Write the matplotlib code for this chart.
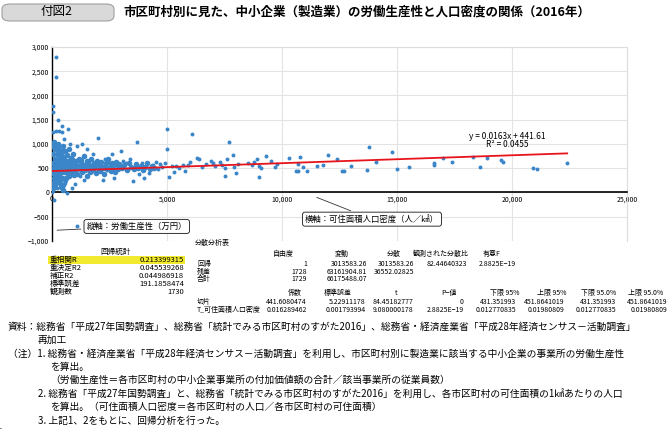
import matplotlib
matplotlib.use("Agg")
import matplotlib.pyplot as plt
from matplotlib.patches import FancyBboxPatch, Rectangle
from matplotlib.lines import Line2D

plt.rcParams['font.family'] = 'Noto Sans CJK JP'

# sparse points
sparse_x = [22400,21100,20900,19600,19500,18900,18600,18300,17400,17000,16600,16600,15500,15000,14800,13800,14100,13700,13000,12700,12600,12400,12000,11800,11500,11100,10900,10800,10700,10600,10700,10300,9800,9700,9500,9300,9100,9000,9000,8800,8900,8700,8500,8100,8000,7900,7850,7700,7600,7500,7500,7400,7300,7100,7000,6900,6700,6500,6400,6300,6100,6000,5900,5800,5700,5500,5400,5300,5200,5100,5000,5000,4900,4800,4700,4600,4500,4400,4300,4200,4100,4000,3900,3800,3700,3600,3500,3400,3300,3200,3100,3000,2900,2800,2700,2600,2500,2400,2300,2200,2100,2000,1900,1800,1700,1600,1500,1400,1300,1200,1100,1000,950,900,850,800,700,650,600,550,500,450,420,400,350,300,260,200,180,170,160,100,80,50,30,30,1100,20]
sparse_y = [610,490,495,630,660,710,530,740,630,720,560,600,530,490,840,930,620,470,550,450,445,700,770,560,550,450,520,730,440,450,590,720,580,530,650,750,500,320,550,620,700,570,600,580,400,530,780,1050,700,500,340,560,620,540,600,650,580,520,690,710,1210,620,560,450,560,500,550,420,540,310,1310,900,600,520,580,480,620,560,520,400,550,290,600,380,1050,530,230,700,480,600,650,850,520,560,300,800,600,470,700,250,500,1130,620,800,420,600,900,250,1000,350,950,180,560,700,90,1000,1300,-20,850,200,1100,1250,1370,300,950,1260,1500,100,1260,2800,2380,900,-150,1650,1780,1250,-700,0]

# dense cloud points
dense_x = [10,20,30,40,50,60,70,90,110,130,150,170,190,210,230,250,270,290,310,330,350,370,390,410,430,450,470,490,
           520,540,560,580,600,620,640,660,680,700,720,740,760,780,800,820,840,860,880,900,920,940,960,980,
           1020,1060,1100,1140,1180,1220,1260,1300,1340,1380,1420,1460,1500,1540,1580,1620,1660,1700,1740,1780,1820,1860,1900,1940,1980,
           2050,2100,2150,2200,2250,2300,2350,2400,2450,2500,2550,2600,2650,2700,2750,2800,2850,2900,2950,
           3050,3150,3250,3350,3450,3550,3650,3750,3850,3950,4050,4150,4250,4350,4450,
           60,120,180,240,300,360,420,480,100,200,300,400,500,80,160,240,320,400,480,140,280,420,560,700,840,
           250,500,750,1000,1250,1500,350,650,950,1250,1600,1800,2000,2200]
dense_y = [50,200,400,600,800,950,300,500,700,150,900,350,600,450,800,250,1000,550,700,400,200,850,600,500,750,300,650,950,
           420,700,550,850,300,600,480,780,400,650,520,900,350,600,450,720,560,380,650,500,800,420,600,520,
           450,650,380,550,700,480,600,420,520,750,460,580,350,640,500,560,420,700,520,460,600,540,400,650,500,
           560,450,620,500,380,540,600,480,700,520,440,600,500,560,420,620,480,580,520,
           500,560,460,600,520,480,580,500,540,460,520,600,480,540,500,
           100,250,350,500,650,750,850,150,1050,950,880,780,680,580,420,320,220,120,60,500,400,300,250,350,450,
           480,520,560,400,520,560,620,440,360,660,480,540,600,520]

slope, intercept = 0.0163, 441.61
x_ticks = [0,5000,10000,15000,20000,25000]
y_ticks = [-1000,-500,0,500,1000,1500,2000,2500,3000]

W, H = 668, 429
fig = plt.figure(figsize=(W/100, H/100), dpi=100)

def px(x, y):
    return x / W, 1 - y / H

def T(x, y, s, **kw):
    kw.setdefault('fontsize', 6)
    kw.setdefault('va', 'center')
    fig.text(x / W, 1 - y / H, s, **kw)

# header
fig.patches.append(FancyBboxPatch(px(2, 21), 112/W, 17/H, boxstyle="round,pad=0,rounding_size=0.012",
                                  transform=fig.transFigure, fc='#d9d9d9', ec='#a0a0a0', lw=0.8))
T(57, 12, "付図2", fontsize=9, ha='center')
T(123, 12, "市区町村別に見た、中小企業（製造業）の労働生産性と人口密度の関係（2016年）", fontsize=9, ha='left', weight='bold')

# axes
l, b = px(52, 241)
r, t = px(627, 47)
ax = fig.add_axes([l, b, r - l, t - b])
ax.set_xlim(0, 25000)
ax.set_ylim(-1000, 3000)
ax.scatter(dense_x, dense_y, s=16, color='#3a86c8', lw=0, zorder=3)
ax.scatter(sparse_x, sparse_y, s=8, color='#3a86c8', lw=0, zorder=3)
xs = [0, 22400]
ax.plot(xs, [slope*v + intercept for v in xs], color='#e8141c', lw=1.3, zorder=4)
ax.set_xticks(x_ticks)
ax.set_xticklabels([f"{v:,}" for v in x_ticks])
ax.set_yticks(y_ticks)
ylabels = ax.set_yticklabels(["−1,000" if v == -1000 else ("−500" if v == -500 else f"{v:,}") for v in y_ticks])
for lab, v in zip(ylabels, y_ticks):
    if v < 0:
        lab.set_color('#e8141c')
ax.tick_params(length=0, pad=2, labelsize=5)
ax.grid(True, color='#e3e3e3', lw=0.8)
ax.set_axisbelow(True)
for s in ['top', 'right']:
    ax.spines[s].set_color('#dddddd')
ax.spines['left'].set_position(('data', 0))
ax.spines['bottom'].set_position(('data', 0))
ax.spines['left'].set_linewidth(1.0)
ax.spines['bottom'].set_linewidth(1.2)
ax.text(19800, 1160, "y = 0.0163x + 441.61", fontsize=6, ha='center', va='center')
ax.text(19800, 990, "R² = 0.0455", fontsize=6, ha='center', va='center')

# callouts
ax.annotate("縦軸：労働生産性（万円）", xy=(100, -780), xytext=(1500, -700), fontsize=6,
            va='center', bbox=dict(boxstyle='round,pad=0.3', fc='white', ec='#333', lw=0.7),
            arrowprops=dict(arrowstyle='-', color='#333', lw=0.6))
ax.annotate("横軸：可住面積人口密度（人／㎢）", xy=(11400, -80), xytext=(11000, -550), fontsize=6,
            va='center', bbox=dict(boxstyle='round,pad=0.3', fc='white', ec='#333', lw=0.7),
            arrowprops=dict(arrowstyle='-', color='#333', lw=0.6))

# regression statistics table
fig.lines.append(Line2D([48/W, 185/W], [1-247/H]*2, color='#888', lw=1.5))
T(116, 252, "回帰統計", ha='center', fontsize=5.5)
fig.lines.append(Line2D([48/W, 185/W], [1-256/H]*2, color='#888', lw=0.7))
fig.patches.append(Rectangle(px(48, 264), 137/W, 8/H, transform=fig.transFigure, fc='#f1ea2e', ec='none'))
reg_labels = ["重相関R", "重決定R2", "補正R2", "標準誤差", "観測数"]
reg_values = ["0.213399315", "0.045539268", "0.044986918", "191.1858474", "1730"]
for i, (a, v) in enumerate(zip(reg_labels, reg_values)):
    yy = 260 + 8 * i
    T(50, yy, a, fontsize=5.5)
    T(184, yy, v, fontsize=5.5, ha='right')
fig.lines.append(Line2D([48/W, 185/W], [1-298/H]*2, color='#888', lw=0.7))

# ANOVA table
T(195, 243, "分散分析表", fontsize=5)
fig.lines.append(Line2D([195/W, 518/W], [1-249/H]*2, color='#888', lw=1.2))
anova_cols = ["自由度", "変動", "分散", "観測された分散比", "有意F"]
anova_hx = [283, 342, 394, 441, 492]
anova_rx = [307, 367, 414, 467, 516]
for h, xh in zip(anova_cols, anova_hx):
    T(xh, 254, h, fontsize=5, ha='center')
fig.lines.append(Line2D([195/W, 518/W], [1-259/H]*2, color='#888', lw=0.7))
anova_rows = ["回帰", "残差", "合計"]
anova_vals = [["1", "3013583.26", "3013583.26", "82.44640323", "2.8825E−19"],
              ["1728", "63161904.81", "36552.02825", "", ""],
              ["1729", "66175488.07", "", "", ""]]
for i, (nm, vals) in enumerate(zip(anova_rows, anova_vals)):
    yy = 264 + 7.5 * i
    T(197, yy, nm, fontsize=5)
    for v, xr in zip(vals, anova_rx):
        T(xr, yy, v, fontsize=5, ha='right')
fig.lines.append(Line2D([195/W, 518/W], [1-284/H]*2, color='#888', lw=0.7))

# coefficients table
fig.lines.append(Line2D([195/W, 668/W], [1-288/H]*2, color='#888', lw=1.2))
coef_cols = ["係数", "標準誤差", "t", "P−値", "下限 95%", "上限 95%", "下限 95.0%", "上限 95.0%"]
coef_hx = [295, 338, 396, 449, 505, 552, 599, 646]
coef_rx = [307, 366, 414, 464, 516, 564, 616, 667]
for h, xh in zip(coef_cols, coef_hx):
    T(xh, 293, h, fontsize=5, ha='center')
fig.lines.append(Line2D([195/W, 668/W], [1-298/H]*2, color='#888', lw=0.7))
coef_rows = ["切片", "T_可住面積人口密度"]
coef_vals = [["441.6080474", "5.22911178", "84.45182777", "0", "431.351993", "451.8641019", "431.351993", "451.8641019"],
             ["0.016289462", "0.001793994", "9.080000178", "2.8825E−19", "0.012770835", "0.01980809", "0.012770835", "0.01980809"]]
for i, (nm, vals) in enumerate(zip(coef_rows, coef_vals)):
    yy = 302 + 8 * i
    T(197, yy, nm, fontsize=5)
    for v, xr in zip(vals, coef_rx):
        T(xr, yy, v, fontsize=5, ha='right')
fig.lines.append(Line2D([195/W, 668/W], [1-314/H]*2, color='#888', lw=0.7))

# notes
notes = [
    (8, 327, "資料：総務省「平成27年国勢調査」、総務省「統計でみる市区町村のすがた2016」、総務省・経済産業省「平成28年経済センサス－活動調査」"),
    (38, 340, "再加工"),
    (8, 354, "（注）1. 総務省・経済産業省「平成28年経済センサス－活動調査」を利用し、市区町村別に製造業に該当する中小企業の事業所の労働生産性"),
    (50, 367, "を算出。"),
    (50, 380, "（労働生産性＝各市区町村の中小企業事業所の付加価値額の合計／該当事業所の従業員数）"),
    (38, 394, "2. 総務省「平成27年国勢調査」と、総務省「統計でみる市区町村のすがた2016」を利用し、各市区町村の可住面積の1㎢あたりの人口"),
    (50, 407, "を算出。（可住面積人口密度＝各市区町村の人口／各市区町村の可住面積）"),
    (38, 421, "3. 上記1、2をもとに、回帰分析を行った。"),
]
for x, y, s in notes:
    T(x, y, s, fontsize=7)

fig.savefig("out.png", dpi=100)
